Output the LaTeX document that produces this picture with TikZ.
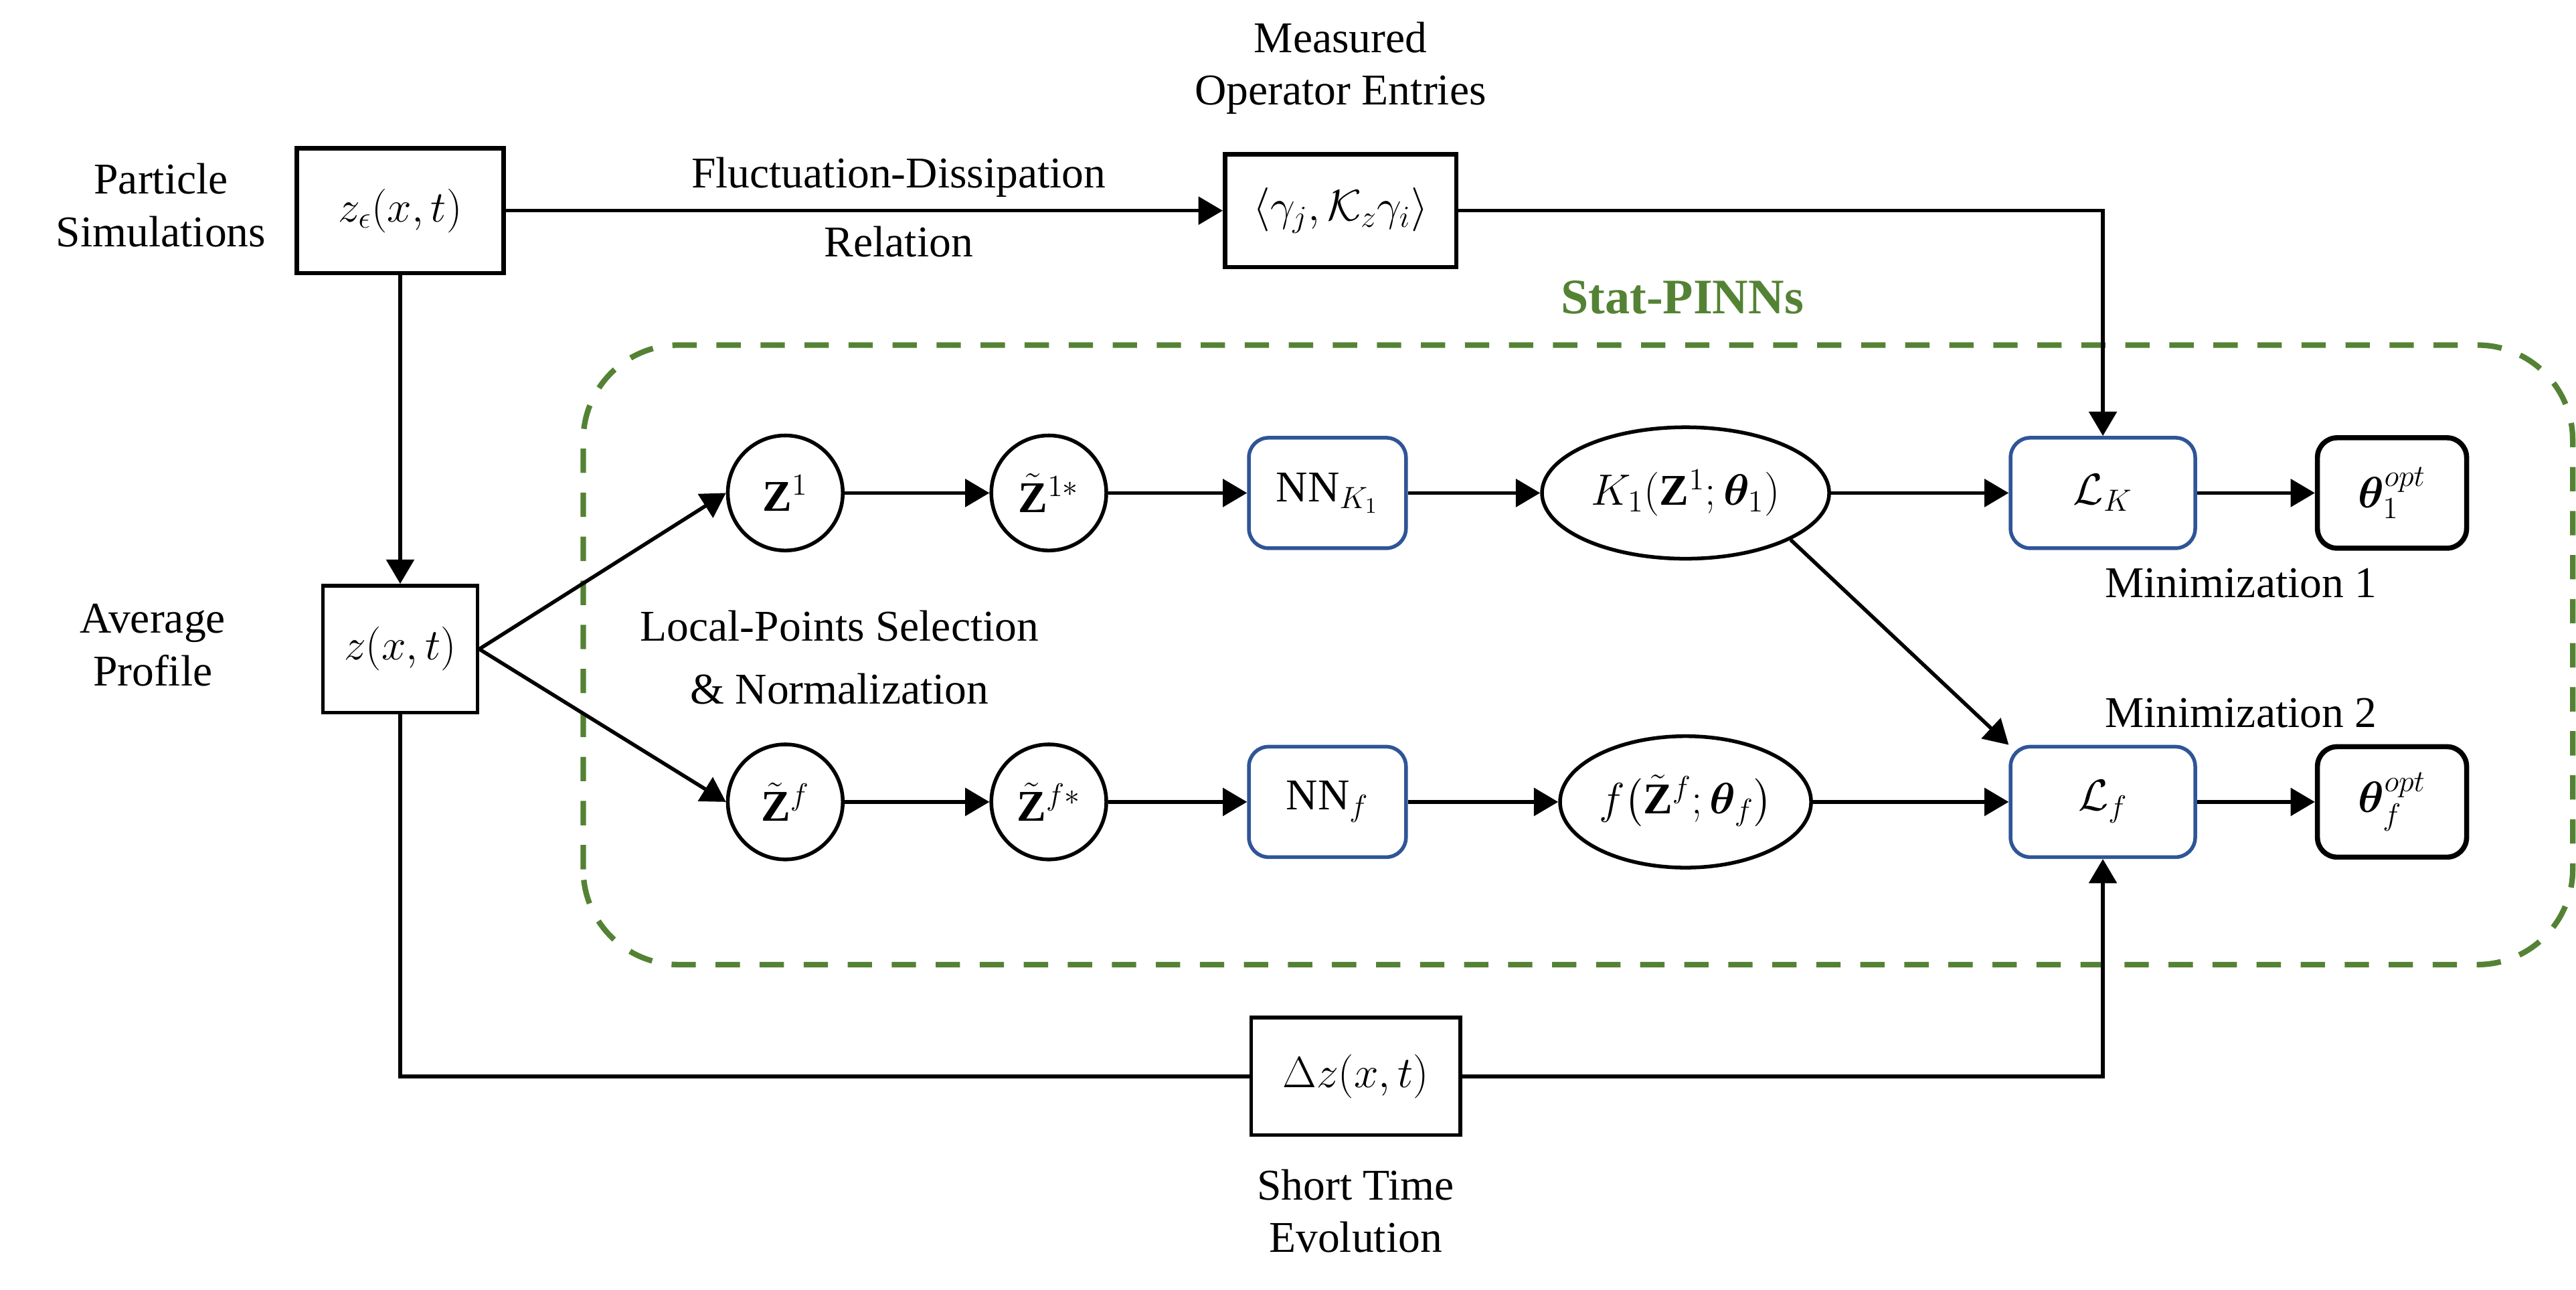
\RequirePackage{fix-cm}
\documentclass[tikz,border=0pt]{standalone}
\usepackage{amsmath}
\usepackage{bm}
\usepackage{fontspec}
\setmainfont{Liberation Serif}
\usetikzlibrary{arrows.meta,shapes.geometric}

\definecolor{statgreen}{RGB}{84,130,53}
\definecolor{nnblue}{RGB}{47,85,151}

\tikzset{
	databox/.style={draw, line width=1.9pt, inner sep=0pt, minimum width=#1, minimum height=1.8cm},
	ptcircle/.style={draw, circle, line width=1.6pt, inner sep=0pt, minimum size=1.75cm},
	netbox/.style={draw=nnblue, rounded corners=0.3cm, line width=1.6pt, inner sep=0pt, minimum width=#1, minimum height=1.68cm},
	optbox/.style={draw, rounded corners=0.3cm, line width=2.2pt, inner sep=0pt, minimum width=2.27cm, minimum height=1.68cm},
	fnell/.style={draw, ellipse, line width=1.6pt, inner sep=0pt, minimum width=#1, minimum height=2cm},
	wire/.style={line width=1.6pt},
	flow/.style={line width=1.6pt, -{Triangle[length=0.37cm,width=0.42cm]}}
}

\begin{document}
\begin{tikzpicture}[font=\fontsize{19}{22.8}\selectfont]
\useasboundingbox (0,0) rectangle (39.2,19.625);

\pgfmathsetmacro{\fgTop}{16.42}
\pgfmathsetmacro{\fgRowA}{12.125}
\pgfmathsetmacro{\fgMid}{9.75}
\pgfmathsetmacro{\fgRowB}{7.425}
\pgfmathsetmacro{\fgBot}{3.25}

\pgfmathsetmacro{\fgZx}{6.09}
\pgfmathsetmacro{\fgAx}{11.95}
\pgfmathsetmacro{\fgBx}{15.96}
\pgfmathsetmacro{\fgNx}{20.2}
\pgfmathsetmacro{\fgGx}{20.4}
\pgfmathsetmacro{\fgDx}{20.63}
\pgfmathsetmacro{\fgKx}{25.65}
\pgfmathsetmacro{\fgLx}{32.0}
\pgfmathsetmacro{\fgTx}{36.4}

% Stat-PINNs frame
\draw[statgreen, line width=2.4pt, dash pattern=on 0.37cm off 0.3cm, rounded corners=1.45cm] (8.875,4.95) rectangle (39.15,14.375);
\node[font=\fontsize{21.5}{25}\selectfont\bfseries, text=statgreen] (lblStat) at (25.6,15.1) {Stat-PINNs};

\node[databox=3.15cm, minimum height=1.9cm] (zeps) at (\fgZx,\fgTop) {$z_\epsilon(x,t)$};
\node[databox=3.52cm, minimum height=1.72cm] (gam) at (\fgGx,\fgTop) {$\langle \gamma_j, \mathcal{K}_z\gamma_i \rangle$};
\node[databox=2.35cm, minimum height=1.93cm, line width=1.6pt] (zbox) at (\fgZx,\fgMid) {$z(x,t)$};
\node[databox=3.18cm, minimum height=1.79cm, line width=1.6pt] (dz) at (\fgDx,\fgBot) {$\Delta z(x,t)$};

\node[ptcircle] (Z1) at (\fgAx,\fgRowA) {$\mathbf{Z}^1$};
\node[ptcircle] (Z1s) at (\fgBx,\fgRowA) {$\tilde{\mathbf{Z}}^{1*}$};
\node[ptcircle] (Zf) at (\fgAx,\fgRowB) {$\tilde{\mathbf{Z}}^f$};
\node[ptcircle] (Zfs) at (\fgBx,\fgRowB) {$\tilde{\mathbf{Z}}^{f*}$};

\node[netbox=2.39cm] (NNK) at (\fgNx,\fgRowA) {NN$_{K_1}$};
\node[netbox=2.39cm] (NNf) at (\fgNx,\fgRowB) {NN$_f$};

\node[fnell=4.37cm] (Kell) at (\fgKx,\fgRowA) {$K_1(\mathbf{Z}^1;\bm{\theta}_1)$};
\node[fnell=3.82cm] (fell) at (\fgKx,\fgRowB) {$f\bigl(\tilde{\mathbf{Z}}^f;\bm{\theta}_f\bigr)$};

\node[netbox=2.81cm] (LK) at (\fgLx,\fgRowA) {$\mathcal{L}_K$};
\node[netbox=2.81cm] (Lf) at (\fgLx,\fgRowB) {$\mathcal{L}_f$};

\node[optbox] (thA) at (\fgTx,\fgRowA) {$\bm{\theta}_1^{opt}$};
\node[optbox] (thB) at (\fgTx,\fgRowB) {$\bm{\theta}_f^{opt}$};

% labels
\node[align=center] (lblPart) at (2.45,16.5) {Particle\\Simulations};
\node[align=center] (lblAvg) at (2.325,9.81) {Average\\Profile};
\node[align=center] (lblMeas) at (\fgGx,18.59) {Measured\\Operator Entries};
\node (lblFD) at (13.675,16.925) {Fluctuation-Dissipation};
\node (lblRel) at (13.675,15.95) {Relation};
\node[align=center] (lblLocal) at (12.775,9.625) {Local-Points Selection\\[0.15cm]\& Normalization};
\node (lblMinA) at (34.1,10.75) {Minimization 1};
\node (lblMinB) at (34.1,8.775) {Minimization 2};
\node[align=center] (lblShort) at (\fgDx,1.2) {Short Time\\Evolution};

% connectors
\draw[flow] (zeps.east) -- (gam.west);
\draw[flow] (gam.east) -| (LK.north);
\draw[flow] (zeps.south) -- (zbox.north);
\draw[flow] (zbox.east) -- (Z1.west);
\draw[flow] (zbox.east) -- (Zf.west);
\foreach \a/\b in {Z1/Z1s, Z1s/NNK, NNK/Kell, Kell/LK, LK/thA, Zf/Zfs, Zfs/NNf, NNf/fell, fell/Lf, Lf/thB}
	\draw[flow] (\a) -- (\b);
\draw[flow] (Kell.-24) -- (Lf.north west);
\draw[wire] (zbox.south) |- (dz.west);
\draw[flow] (dz.east) -| (Lf.south);
\end{tikzpicture}
\end{document}
